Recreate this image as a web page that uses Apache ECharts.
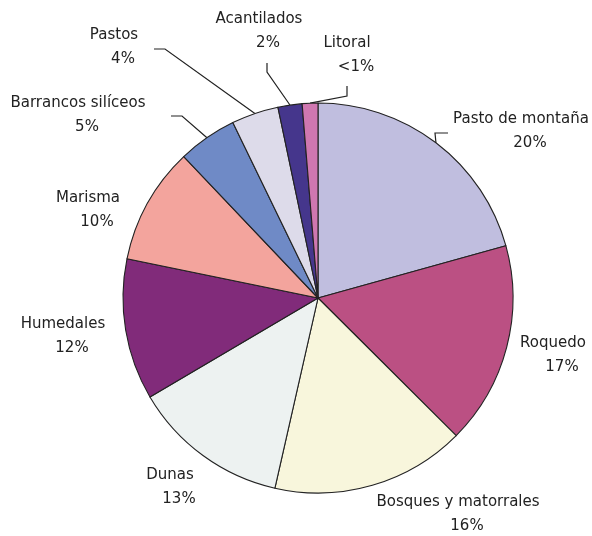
<!DOCTYPE html>
<html>
<head>
<meta charset="utf-8">
<script src="https://cdn.jsdelivr.net/npm/echarts@6/dist/echarts.min.js"></script>
<style>
  html, body { margin: 0; padding: 0; background: #fff; }
  #chart { width: 592px; height: 536px; }
</style>
</head>
<body>
<div id="chart"></div>
<script>
var categories = ['Pasto de montaña', 'Roquedo', 'Bosques y matorrales', 'Dunas', 'Humedales',
  'Marisma', 'Barrancos silíceos', 'Pastos', 'Acantilados', 'Litoral'];
var values = [20.7, 16.8, 16.1, 13.0, 11.7, 9.7, 4.9, 3.9, 2.0, 1.3];
var pctLabels = ['20%', '17%', '16%', '13%', '12%', '10%', '5%', '4%', '2%', '<1%'];

var colors = ['#c0bedf', '#bb5083', '#f8f6dc', '#edf2f1', '#812b7a',
  '#f3a49d', '#6f8ac6', '#dddbea', '#45368c', '#cf77b0'];

// label placement (block centre) and leader line elbows, by slice
var labelPos = [
  { x: 521, y: 131, line: [[435, 133], [448, 133]] },
  { x: 553, y: 355 },
  { x: 458, y: 514 },
  { x: 170, y: 487 },
  { x: 63, y: 336 },
  { x: 88, y: 210 },
  { x: 78, y: 115, line: [[182, 116], [171, 116]] },
  { x: 114, y: 47, line: [[165, 49], [154, 49]] },
  { x: 259, y: 31, line: [[267, 72], [267, 63]] },
  { x: 347, y: 55, line: [[347, 96], [347, 86]] }
];

var chart = echarts.init(document.getElementById('chart'));

var data = categories.map(function (name, i) {
  return {
    name: name,
    value: values[i],
    itemStyle: { color: colors[i] },
    labelLine: { show: !!labelPos[i].line }
  };
});

chart.setOption({
  animation: false,
  series: [{
    type: 'pie',
    center: [318, 298],
    radius: 195,
    startAngle: 90,
    clockwise: true,
    data: data,
    itemStyle: { borderColor: '#222', borderWidth: 1.1 },
    label: {
      position: 'outside',
      overflow: 'none',
      fontFamily: 'DejaVu Sans',
      fontSize: 15,
      color: '#222',
      lineHeight: 23.5,
      align: 'center',
      formatter: function (p) {
        return p.name + '\n{p|' + pctLabels[p.dataIndex] + '}';
      },
      rich: {
        p: { fontFamily: 'DejaVu Sans', fontSize: 15, color: '#222', lineHeight: 23.5, padding: [0, 0, 0, 18] }
      }
    },
    labelLine: {
      show: true,
      lineStyle: { color: '#222', width: 1.2 }
    },
    labelLayout: function (params) {
      var pos = labelPos[params.dataIndex];
      var out = { x: pos.x, y: pos.y, align: 'center', verticalAlign: 'middle' };
      if (pos.line && params.labelLinePoints) {
        out.labelLinePoints = [params.labelLinePoints[0]].concat(pos.line);
      }
      return out;
    }
  }]
});
</script>
</body>
</html>
